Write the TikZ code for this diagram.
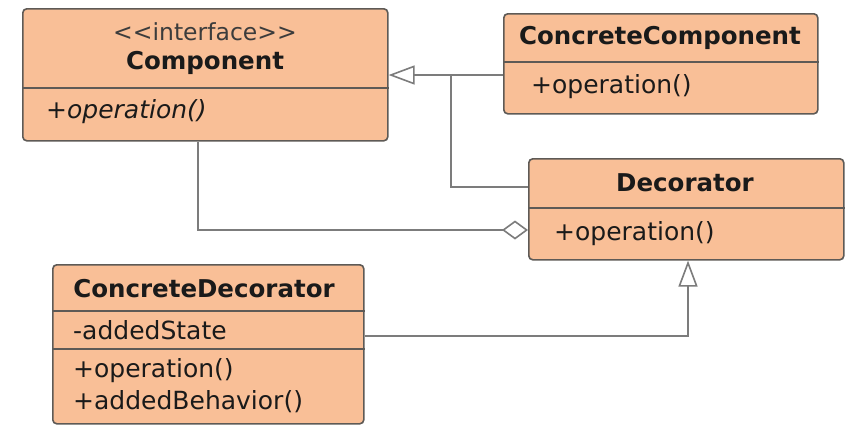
\documentclass[tikz,border=0pt]{standalone}
\usepackage{fontspec}
\setmainfont{DejaVu Sans}
\usetikzlibrary{arrows.meta}
\definecolor{boxfill}{HTML}{F9BF97}
\definecolor{boxdraw}{HTML}{5E5A56}
\definecolor{linegray}{HTML}{7C7C7C}
\definecolor{txt}{HTML}{1A1A1A}
\begin{document}
\begin{tikzpicture}[x=1pt,y=-1pt,
  umlbox/.style={draw=boxdraw, fill=boxfill, line width=1.6pt, rounded corners=4pt,
    inner sep=0pt, anchor=north west},
  divider/.style={draw=boxdraw, line width=1.4pt},
  conn/.style={draw=linegray, line width=1.6pt},
  lbl/.style={inner sep=0pt, text=txt, font=\fontsize{25}{29}\selectfont},
  ttl/.style={lbl, font=\fontsize{24.5}{29}\selectfont\bfseries},
  inh/.style={-{Triangle[length=26pt,width=19pt,fill=white]}},
  agg/.style={-{Diamond[length=26pt,width=19pt,fill=white]}}]
\useasboundingbox (0,0) rectangle (848,424);
\fill[white] (0,0) rectangle (848,424);

% Component
\node[umlbox, minimum width=365pt, minimum height=132pt] (comp) at (22,8) {};
\draw[divider] (comp.west |- 0,88) -- (comp.east |- 0,88);
\node[lbl, font=\fontsize{23.5}{28}\selectfont, text=txt!85] (compst) at (205,32) {<\kern0pt<interface>\kern0pt>};
\node[ttl] (compt) at (205,63) {Component};
\node[lbl, anchor=west, font=\fontsize{25}{29}\selectfont\itshape] (compop) at (46,112) {+operation()};

% ConcreteComponent
\node[umlbox, minimum width=314pt, minimum height=100pt] (cc) at (503,13) {};
\draw[divider] (cc.west |- 0,62) -- (cc.east |- 0,62);
\node[ttl] (cct) at (660,38) {ConcreteComponent};
\node[lbl, anchor=west] (ccop) at (531,87) {+operation()};

% Decorator
\node[umlbox, minimum width=315pt, minimum height=101pt] (dec) at (528,158) {};
\draw[divider] (dec.west |- 0,208) -- (dec.east |- 0,208);
\node[ttl] (dect) at (685,183) {Decorator};
\node[lbl, anchor=west] (decop) at (554,234) {+operation()};

% ConcreteDecorator
\node[umlbox, minimum width=311pt, minimum height=159pt] (cd) at (52,264) {};
\draw[divider] (cd.west |- 0,311) -- (cd.east |- 0,311);
\draw[divider] (cd.west |- 0,349) -- (cd.east |- 0,349);
\node[ttl] (cdt) at (204,289) {ConcreteDecorator};
\node[lbl, anchor=west] (cdst) at (73,330) {-addedState};
\node[lbl, anchor=west] (cdop) at (73,371) {+operation()};
\node[lbl, anchor=west] (cdab) at (73,402) {+addedBehavior()};

% connectors
\coordinate (j1) at (451,75);
\draw[conn, inh] (cc.west |- 0,75) -- (comp.east |- 0,75);
\draw[conn] (dec.west |- 0,187) -| (j1);
\draw[conn, agg] (comp.south -| 198,0) |- (dec.west |- 0,230);
\draw[conn, inh] (cd.east |- 0,336) -| (dec.south -| 688,0);
\end{tikzpicture}
\end{document}
